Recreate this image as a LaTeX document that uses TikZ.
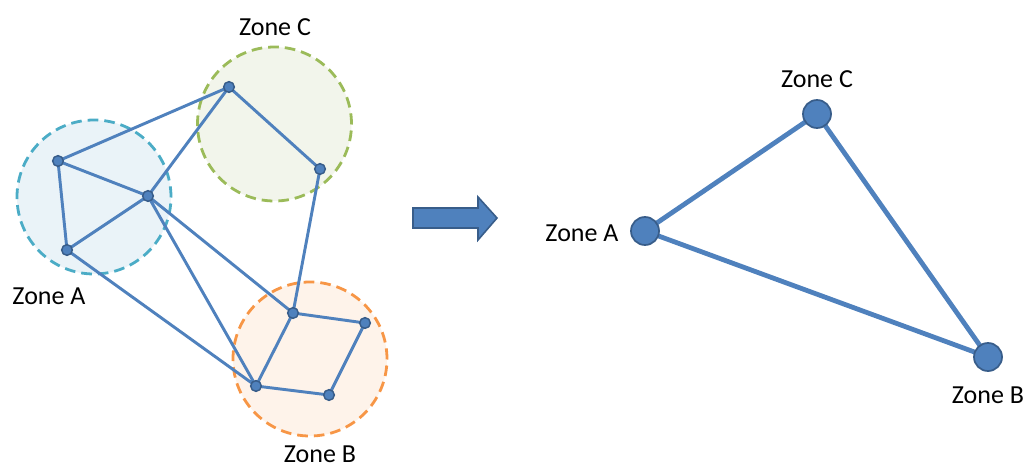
\documentclass[tikz,border=0pt]{standalone}
\usepackage{fontspec}
\setmainfont{Carlito}
\pgfdeclarelayer{zones}
\pgfdeclarelayer{links}
\pgfsetlayers{zones,links,main}
\begin{document}
\definecolor{edgeblue}{HTML}{4F81BD}
\definecolor{darkblue}{HTML}{385D8A}
\definecolor{zoneAline}{HTML}{4BACC6}
\definecolor{zoneAfill}{HTML}{EAF3F8}
\definecolor{zoneCline}{HTML}{9BBB59}
\definecolor{zoneCfill}{HTML}{F2F5EB}
\definecolor{zoneBline}{HTML}{F79646}
\definecolor{zoneBfill}{HTML}{FEF3EA}
\begin{tikzpicture}[x=0.75pt,y=-0.75pt,
  zone/.style={circle,minimum size=115.5pt,inner sep=0pt,line width=2.1pt,dash pattern=on 8pt off 4.5pt},
  dot/.style={circle,minimum size=8pt,inner sep=0pt,fill=edgeblue,draw=darkblue,line width=1.1pt},
  bigdot/.style={circle,minimum size=21pt,inner sep=0pt,fill=edgeblue,draw=darkblue,line width=1.3pt},
  link/.style={draw=edgeblue,line width=2.2pt},
  biglink/.style={draw=edgeblue,line width=3.6pt},
  lbl/.style={font=\fontsize{19.5pt}{22pt}\selectfont,inner sep=0pt}]
\useasboundingbox (0,0) rectangle (1029,468);
% zones of the detailed network
\begin{pgfonlayer}{zones}
\node[zone,draw=zoneAline,fill=zoneAfill] (zoneA) at (94,197) {};
\node[zone,draw=zoneCline,fill=zoneCfill] (zoneC) at (274.5,124) {};
\node[zone,draw=zoneBline,fill=zoneBfill] (zoneB) at (310,359) {};
\end{pgfonlayer}
% devices
\node[dot] (a1) at (58,161) {};
\node[dot] (a2) at (148,196) {};
\node[dot] (a3) at (67,250) {};
\node[dot] (c1) at (229,87) {};
\node[dot] (c2) at (320,169) {};
\node[dot] (b1) at (293,313) {};
\node[dot] (b2) at (365,323) {};
\node[dot] (b3) at (256,386) {};
\node[dot] (b4) at (329,395) {};
% links between devices
\begin{pgfonlayer}{links}
\path[link] (a1.center) -- (c1.center) (a1.center) -- (a2.center) (a1.center) -- (a3.center)
  (a3.center) -- (a2.center) (a2.center) -- (c1.center) (c1.center) -- (c2.center)
  (a2.center) -- (b1.center) (a2.center) -- (b3.center) (a3.center) -- (b3.center)
  (c2.center) -- (b1.center) (b1.center) -- (b2.center) (b1.center) -- (b3.center)
  (b3.center) -- (b4.center) (b4.center) -- (b2.center);
\end{pgfonlayer}
\node[lbl] (labA) at (49,296) {Zone A};
\node[lbl] (labC) at (275,27) {Zone C};
\node[lbl] (labB) at (320,454) {Zone B};
% transformation arrow
\filldraw[fill=edgeblue,draw=darkblue,line width=1.2pt,line join=miter]
  (413,208) -- (478,208) -- (478,197) -- (497,218) -- (478,240) -- (478,228) -- (413,228) -- cycle;
% aggregated zone graph
\node[bigdot] (A) at (645,231) {};
\node[bigdot] (C) at (817,114) {};
\node[bigdot] (B) at (988,357) {};
\begin{pgfonlayer}{links}
\path[biglink] (A.center) -- (C.center) (C.center) -- (B.center) (A.center) -- (B.center);
\end{pgfonlayer}
\node[lbl] (rlabA) at (582,233) {Zone A};
\node[lbl] (rlabC) at (817,79) {Zone C};
\node[lbl] (rlabB) at (988,395) {Zone B};
\end{tikzpicture}
\end{document}
